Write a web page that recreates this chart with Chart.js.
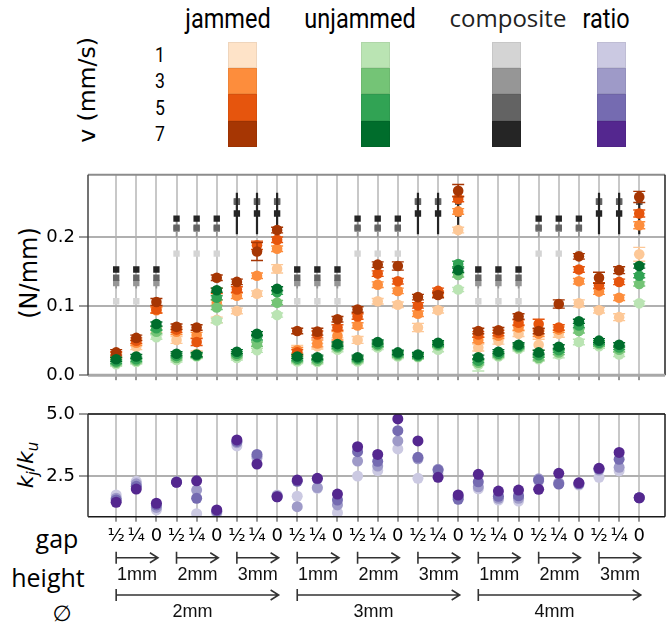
<!DOCTYPE html>
<html>
<head>
<meta charset="utf-8">
<script src="https://cdn.jsdelivr.net/npm/chart.js@4.4.1/dist/chart.umd.min.js"></script>
<style>
  body { margin: 0; background: #fff; width: 671px; height: 627px; position: relative; overflow: hidden; font-family: "DejaVu Sans", sans-serif; color: #000; }
  .txt { position: absolute; transform: translate(-50%, -50%); white-space: nowrap; line-height: 1; }
  .rot { position: absolute; transform: translate(-50%, -50%) rotate(-90deg); white-space: nowrap; line-height: 1; }
  .cab { position: absolute; transform: translate(-50%, -50%) scaleX(0.84); white-space: nowrap; line-height: 1; font-family: Roboto, sans-serif; font-weight: 400; font-size: 28px; color: #000; }
  .caja { position: absolute; width: 29px; height: 26.3px; }
  #arriba { position: absolute; left: 0; top: 160px; }
  #abajo { position: absolute; left: 0; top: 395px; }
</style>
</head>
<body>

<!-- leyenda -->
<div class="cab" style="left:228px;top:19px">jammed</div>
<div class="cab" style="left:360px;top:19px">unjammed</div>
<div class="txt" style="left:508px;top:18px;font-family:'Open Sans';font-size:24px;color:#222">composite</div>
<div class="cab" style="left:606px;top:19px">ratio</div>
<div class="rot" style="left:88px;top:90px;font-size:23.5px">v (mm/s)</div>
<div id="leyenda"></div>

<div class="rot" style="left:29px;top:273px;font-size:24px">(N/mm)</div>
<div class="rot" style="left:28px;top:465px;font-size:22px"><i>k</i><sub style="font-size:15px"><i>j</i></sub>/<i>k</i><sub style="font-size:15px"><i>u</i></sub></div>

<div class="txt" style="left:57px;top:538px;font-family:'Open Sans';font-size:25px">gap</div>
<div class="txt" style="left:48px;top:577px;font-family:'Open Sans';font-size:25px">height</div>
<div class="txt" style="left:62px;top:614px;font-size:22px">∅</div>

<canvas id="arriba" width="671" height="230"></canvas>
<canvas id="abajo" width="671" height="232"></canvas>

<script>
// columnas: 3 diámetros x 3 alturas x 3 gaps
var posiciones = [0, 1, 2, 3, 4, 5, 6, 7, 8, 9, 10, 11, 12, 13, 14, 15, 16, 17, 18, 19, 20, 21, 22, 23, 24, 25, 26];
var diametros = ['2mm', '3mm', '4mm'];
var alturas = ['1mm', '2mm', '3mm'];
var gaps = ['½', '¼', '0'];
var velocidades = ['1', '3', '5', '7'];
var ticksRigidez = [0, 0.1, 0.2];
var ticksRatio = [2.5, 5.0];

// rigidez jammed (N/mm) para v = 1, 3, 5, 7 mm/s
var jam1 = [0.027, 0.041, 0.066, 0.051, 0.031, 0.080, 0.093, 0.118, 0.154, 0.035, 0.042, 0.050, 0.051, 0.107, 0.102, 0.069, 0.094, 0.210, 0.040, 0.050, 0.060, 0.044, 0.060, 0.104, 0.094, 0.084, 0.175];
var jam3 = [0.029, 0.047, 0.094, 0.063, 0.058, 0.105, 0.115, 0.144, 0.183, 0.036, 0.046, 0.057, 0.072, 0.131, 0.122, 0.089, 0.118, 0.237, 0.051, 0.057, 0.069, 0.060, 0.066, 0.136, 0.121, 0.112, 0.217];
var jam5 = [0.030, 0.050, 0.095, 0.066, 0.048, 0.122, 0.124, 0.188, 0.196, 0.033, 0.059, 0.069, 0.085, 0.147, 0.136, 0.101, 0.122, 0.255, 0.059, 0.061, 0.076, 0.074, 0.069, 0.153, 0.130, 0.135, 0.234];
var jam7 = [0.033, 0.054, 0.106, 0.070, 0.069, 0.141, 0.135, 0.179, 0.210, 0.064, 0.063, 0.081, 0.095, 0.160, 0.158, 0.113, 0.116, 0.267, 0.064, 0.065, 0.085, 0.064, 0.103, 0.172, 0.141, 0.152, 0.258];
var errJam1 = [0.004, 0.004, 0.004, 0.005, 0.004, 0.004, 0.004, 0.004, 0.006, 0.008, 0.004, 0.004, 0.005, 0.004, 0.004, 0.006, 0.004, 0.004, 0.005, 0.005, 0.004, 0.008, 0.005, 0.005, 0.004, 0.005, 0.010];
var errJam3 = [0.004, 0.004, 0.004, 0.004, 0.004, 0.004, 0.004, 0.004, 0.004, 0.004, 0.005, 0.006, 0.004, 0.004, 0.004, 0.004, 0.004, 0.004, 0.004, 0.004, 0.004, 0.004, 0.004, 0.004, 0.004, 0.004, 0.005];
var errJam5 = [0.004, 0.004, 0.005, 0.004, 0.005, 0.004, 0.004, 0.006, 0.004, 0.004, 0.005, 0.004, 0.004, 0.004, 0.004, 0.004, 0.004, 0.004, 0.004, 0.004, 0.004, 0.007, 0.004, 0.004, 0.004, 0.004, 0.005];
var errJam7 = [0.004, 0.004, 0.005, 0.004, 0.004, 0.004, 0.004, 0.013, 0.004, 0.004, 0.005, 0.004, 0.004, 0.004, 0.006, 0.004, 0.004, 0.009, 0.004, 0.004, 0.004, 0.004, 0.006, 0.004, 0.008, 0.005, 0.008];

// rigidez unjammed (N/mm)
var unj1 = [0.016, 0.019, 0.055, 0.022, 0.027, 0.079, 0.025, 0.036, 0.087, 0.020, 0.019, 0.037, 0.020, 0.040, 0.027, 0.026, 0.037, 0.124, 0.015, 0.027, 0.038, 0.023, 0.030, 0.048, 0.042, 0.030, 0.104];
var unj3 = [0.018, 0.021, 0.063, 0.025, 0.028, 0.098, 0.028, 0.045, 0.105, 0.022, 0.021, 0.040, 0.022, 0.043, 0.029, 0.027, 0.043, 0.145, 0.018, 0.029, 0.040, 0.025, 0.033, 0.064, 0.045, 0.037, 0.132];
var unj5 = [0.020, 0.023, 0.068, 0.028, 0.029, 0.112, 0.031, 0.055, 0.120, 0.024, 0.024, 0.042, 0.024, 0.045, 0.031, 0.028, 0.045, 0.161, 0.021, 0.031, 0.042, 0.029, 0.036, 0.072, 0.047, 0.040, 0.144];
var unj7 = [0.023, 0.027, 0.074, 0.031, 0.030, 0.123, 0.034, 0.060, 0.125, 0.027, 0.026, 0.045, 0.026, 0.048, 0.033, 0.030, 0.047, 0.152, 0.026, 0.034, 0.044, 0.033, 0.041, 0.078, 0.050, 0.044, 0.158];
var errUnj1 = [0.003, 0.003, 0.003, 0.003, 0.003, 0.003, 0.003, 0.003, 0.003, 0.003, 0.003, 0.003, 0.003, 0.003, 0.003, 0.003, 0.003, 0.003, 0.009, 0.003, 0.003, 0.003, 0.005, 0.004, 0.003, 0.003, 0.003];
var errUnj3 = [0.003, 0.003, 0.003, 0.003, 0.003, 0.003, 0.003, 0.003, 0.003, 0.003, 0.003, 0.003, 0.003, 0.003, 0.003, 0.003, 0.003, 0.003, 0.003, 0.003, 0.003, 0.003, 0.003, 0.003, 0.003, 0.003, 0.003];
var errUnj5 = [0.003, 0.003, 0.003, 0.003, 0.003, 0.003, 0.003, 0.004, 0.003, 0.003, 0.003, 0.003, 0.003, 0.003, 0.003, 0.003, 0.003, 0.004, 0.003, 0.003, 0.003, 0.003, 0.003, 0.003, 0.003, 0.003, 0.003];
var errUnj7 = [0.003, 0.003, 0.003, 0.003, 0.003, 0.003, 0.003, 0.003, 0.003, 0.003, 0.003, 0.003, 0.003, 0.003, 0.003, 0.003, 0.003, 0.003, 0.003, 0.003, 0.003, 0.003, 0.003, 0.003, 0.003, 0.003, 0.003];

// composite (solo depende de la altura: 1mm, 2mm, 3mm)
var comp1 = [0.107, 0.176, null];
var comp3 = [0.1335, 0.212, 0.252];
var comp5 = [0.141, 0.2135, 0.251];
var comp7 = [0.153, 0.2265, 0.234];
var errComp1 = [0.003, 0.003, 0];
var errComp3 = [0.008, 0.012, 0.006];
var errComp5 = [0.004, 0.004, 0.005];
var errComp7 = [0.003, 0.003, 0.030];

// cociente kj/ku
var ratio1 = [1.75, 2.30, 1.15, 2.27, 1.00, 1.00, 3.72, 3.22, 1.75, 1.70, 2.02, 1.04, 2.51, 2.73, 3.60, 2.42, 2.60, 1.70, 2.00, 1.55, 1.51, 2.30, 2.20, 2.15, 2.46, 2.72, 1.64];
var ratio3 = [1.62, 2.20, 1.25, 2.28, 1.95, 1.07, 3.85, 3.30, 1.72, 1.28, 2.05, 1.35, 3.11, 2.91, 3.92, 3.20, 2.78, 1.65, 2.08, 1.62, 1.62, 2.40, 2.25, 2.20, 2.75, 2.86, 1.64];
var ratio5 = [1.55, 2.10, 1.35, 2.27, 1.62, 1.10, 3.90, 3.38, 1.68, 2.30, 2.40, 1.55, 3.49, 3.10, 4.33, 3.26, 2.75, 1.58, 2.28, 1.70, 1.72, 2.35, 2.19, 2.20, 2.80, 3.18, 1.64];
var ratio7 = [1.46, 1.99, 1.42, 2.26, 2.32, 1.15, 3.96, 2.99, 1.68, 2.35, 2.42, 1.79, 3.69, 3.38, 4.80, 3.92, 2.46, 1.75, 2.58, 1.91, 1.95, 1.98, 2.62, 2.24, 2.82, 3.46, 1.64];

// colores
var naranjas = ['#fdc897', '#fd8d3c', '#e6550d', '#a63603'];
var verdes = ['#bae4b3', '#74c476', '#31a354', '#006d2c'];
var grises = ['#d4d4d4', '#969696', '#636363', '#252525'];
var morados = ['#cbc9e2', '#9e9ac8', '#756bb1', '#54278f'];
var leyendaNaranjas = ['#fee3c8', '#fd8d3c', '#e6550d', '#a63603'];

// leyenda de colores
var leyenda = document.getElementById('leyenda');
var columnas = [[228, leyendaNaranjas], [361, verdes], [492, grises], [597, morados]];
velocidades.forEach(function (v, f) {
    var t = document.createElement('div');
    t.className = 'cab';
    t.style.cssText = 'left:160px;top:' + (55 + f * 26.3) + 'px;font-size:21px';
    t.textContent = v;
    leyenda.appendChild(t);
    columnas.forEach(function (c) {
        var d = document.createElement('div');
        d.className = 'caja';
        d.style.left = c[0] + 'px';
        d.style.top = (41.7 + f * 26.3) + 'px';
        d.style.background = c[1][f];
        d.style.boxShadow = 'inset 0 0 0 1px rgba(0,0,0,0.06)';
        leyenda.appendChild(d);
    });
});

function puntos(valores) {
    return valores.map(function (v, i) { return { x: posiciones[i], y: v }; });
}
function porAltura(valores) {
    return posiciones.map(function (p) { return valores[Math.floor(p / 3) % 3]; });
}

function serie(valores, errores, color, estilo, radio, orden, tapa, grosor) {
    return {
        data: puntos(valores),
        errores: errores,
        tapa: tapa,
        grosor: grosor,
        backgroundColor: color,
        borderColor: color,
        pointStyle: estilo,
        pointRadius: radio,
        pointBorderWidth: 0,
        showLine: false,
        order: orden
    };
}

// barras de error dibujadas justo antes de cada serie
var barrasError = {
    id: 'barrasError',
    beforeDatasetDraw: function (chart, args) {
        var ds = chart.data.datasets[args.index];
        if (!ds.errores) return;
        var ctx = chart.ctx, y = chart.scales.y, a = chart.chartArea;
        ctx.save();
        ctx.beginPath();
        ctx.rect(a.left, a.top, a.right - a.left, a.bottom - a.top);
        ctx.clip();
        ctx.strokeStyle = ds.borderColor;
        ctx.lineWidth = ds.grosor;
        args.meta.data.forEach(function (p, i) {
            var v = ds.data[i].y, e = ds.errores[i];
            if (v == null || !e) return;
            var y1 = y.getPixelForValue(v - e), y2 = y.getPixelForValue(v + e);
            ctx.beginPath();
            ctx.moveTo(p.x, y1);
            ctx.lineTo(p.x, y2);
            if (ds.tapa) {
                ctx.moveTo(p.x - ds.tapa, y1); ctx.lineTo(p.x + ds.tapa, y1);
                ctx.moveTo(p.x - ds.tapa, y2); ctx.lineTo(p.x + ds.tapa, y2);
            }
            ctx.stroke();
        });
        ctx.restore();
    }
};

// marco del área de la gráfica
var marco = {
    id: 'marco',
    afterDatasetsDraw: function (chart, args, o) {
        var ctx = chart.ctx, a = chart.chartArea;
        function lado(x1, y1, x2, y2, c, w) {
            ctx.beginPath(); ctx.strokeStyle = c; ctx.lineWidth = w;
            ctx.moveTo(x1, y1); ctx.lineTo(x2, y2); ctx.stroke();
        }
        ctx.save();
        lado(a.left, a.top, a.right, a.top, o.arriba[0], o.arriba[1]);
        lado(a.right, a.top, a.right, a.bottom, o.derecha[0], o.derecha[1]);
        lado(a.left, a.bottom, a.right, a.bottom, o.abajo[0], o.abajo[1]);
        lado(a.left, a.top, a.left, a.bottom, o.izquierda[0], o.izquierda[1]);
        ctx.restore();
    }
};

// flechas de altura y diámetro bajo el eje x
var flechas = {
    id: 'flechas',
    afterDraw: function (chart) {
        var ctx = chart.ctx, x = chart.scales.x;
        function flecha(i0, i1, yf, texto, yt, dx) {
            var x0 = x.getPixelForValue(posiciones[i0]), x1 = x.getPixelForValue(posiciones[i1]) + 1.5;
            ctx.beginPath();
            ctx.moveTo(x0, yf - 6); ctx.lineTo(x0, yf + 6);
            ctx.moveTo(x0, yf); ctx.lineTo(x1, yf);
            ctx.moveTo(x1 - 8, yf - 5); ctx.lineTo(x1, yf); ctx.lineTo(x1 - 8, yf + 5);
            ctx.stroke();
            ctx.fillText(texto, (x0 + x1) / 2 + dx, yt);
        }
        ctx.save();
        ctx.strokeStyle = '#333';
        ctx.lineWidth = 1.6;
        ctx.fillStyle = '#111';
        ctx.font = '18px "Liberation Sans"';
        ctx.textAlign = 'center';
        ctx.textBaseline = 'middle';
        for (var g = 0; g < 9; g++) {
            flecha(g * 3, g * 3 + 2, 162.7, alturas[g % 3], 180.5, 0);
        }
        diametros.forEach(function (d, k) {
            flecha(k * 9, k * 9 + 8, 200, d, 217.5, -5);
        });
        ctx.restore();
    }
};

var ejeX = {
    type: 'linear',
    min: -1.4,
    max: 27.28,
    afterBuildTicks: function (s) { s.ticks = posiciones.map(function (p) { return { value: p }; }); },
    grid: { color: '#c8c8c8', lineWidth: 2, tickLength: 5, tickColor: '#333', tickWidth: 1 },
    border: { display: false }
};

// gráfica de rigidez
var datosArriba = [];
[comp1, comp3, comp5, comp7].forEach(function (c, k) {
    datosArriba.push(serie(porAltura(c), porAltura([errComp1, errComp3, errComp5, errComp7][k]), grises[k], 'rect', 4.5, 40 - k, 0, k === 3 ? 2.2 : 1.6));
});
[jam1, jam3, jam5, jam7].forEach(function (c, k) {
    datosArriba.push(serie(c, [errJam1, errJam3, errJam5, errJam7][k], naranjas[k], 'circle', 5.3, 30 - k, 6, 1.4));
});
[unj1, unj3, unj5, unj7].forEach(function (c, k) {
    datosArriba.push(serie(c, [errUnj1, errUnj3, errUnj5, errUnj7][k], verdes[k], 'circle', 5.3, 20 - k, 6, 1.4));
});

new Chart(document.getElementById('arriba').getContext('2d'), {
    type: 'scatter',
    data: { datasets: datosArriba },
    plugins: [barrasError, marco],
    options: {
        responsive: false,
        animation: false,
        events: [],
        layout: { padding: { top: 9, right: 6, left: 0, bottom: 0 } },
        scales: {
            x: Object.assign({}, ejeX, {
                ticks: { display: false },
                afterFit: function (s) { s.height = 12.6; }
            }),
            y: {
                min: 0,
                max: 0.29,
                afterBuildTicks: function (s) { s.ticks = ticksRigidez.map(function (v) { return { value: v }; }); },
                afterFit: function (s) { s.width = 88; },
                grid: { color: '#b0b0b0', lineWidth: 2, tickLength: 9, tickColor: '#333', tickWidth: 1 },
                border: { display: false },
                ticks: {
                    padding: 4,
                    color: '#000',
                    font: { family: 'DejaVu Sans', size: 18 },
                    callback: function (v) { return v.toFixed(1); }
                }
            }
        },
        plugins: {
            legend: { display: false },
            tooltip: { enabled: false },
            marco: { arriba: ['#8c8c8c', 2], derecha: ['#222', 1.5], abajo: ['#a8a8a8', 3], izquierda: ['#444', 1.5] }
        }
    }
});

// gráfica del cociente
var datosAbajo = [ratio1, ratio3, ratio5, ratio7].map(function (c, k) {
    return serie(c, null, morados[k], 'circle', 5.5, 10 - k, 0, 0);
});

new Chart(document.getElementById('abajo').getContext('2d'), {
    type: 'scatter',
    data: { datasets: datosAbajo },
    plugins: [marco, flechas],
    options: {
        responsive: false,
        animation: false,
        events: [],
        layout: { padding: { top: 19, right: 6, left: 0, bottom: 0 } },
        scales: {
            x: Object.assign({}, ejeX, {
                afterFit: function (s) { s.height = 110.3; },
                ticks: {
                    autoSkip: false,
                    maxRotation: 0,
                    padding: 4,
                    color: '#000',
                    font: { family: 'DejaVu Sans', size: 18 },
                    callback: function (v) { return gaps[v % 3]; }
                }
            }),
            y: {
                min: 0.88,
                max: 5.0,
                afterBuildTicks: function (s) { s.ticks = ticksRatio.map(function (v) { return { value: v }; }); },
                afterFit: function (s) { s.width = 88; },
                grid: { color: '#b0b0b0', lineWidth: 2, tickLength: 9, tickColor: '#333', tickWidth: 1 },
                border: { display: false },
                ticks: {
                    padding: 4,
                    color: '#000',
                    font: { family: 'DejaVu Sans', size: 18 },
                    callback: function (v) { return v.toFixed(1); }
                }
            }
        },
        plugins: {
            legend: { display: false },
            tooltip: { enabled: false },
            marco: { arriba: ['#1a1a1a', 1.5], derecha: ['#1a1a1a', 1.5], abajo: ['#1a1a1a', 1.5], izquierda: ['#333', 1.5] }
        }
    }
});
</script>
</body>
</html>
